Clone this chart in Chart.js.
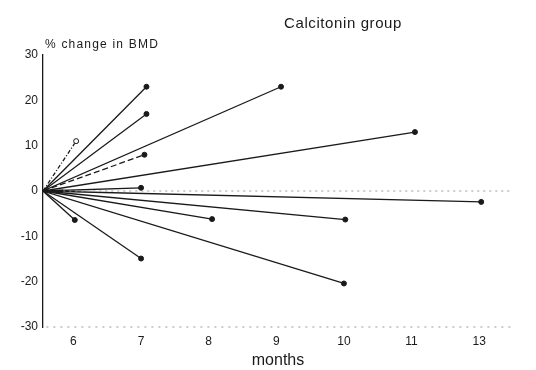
<!DOCTYPE html>
<html>
<head>
<meta charset="utf-8">
<script src="https://cdn.jsdelivr.net/npm/chart.js@4.4.1/dist/chart.umd.min.js"></script>
<style>
  html, body { margin: 0; padding: 0; background: #fff; }
  #wrap { width: 536px; height: 370px; }
</style>
</head>
<body>
<div id="wrap"><canvas id="bmd"></canvas></div>
<script>
// each subject: a line from the start (month 5.55, 0 %) to the last measurement
const startMonth = 5.55;
const endMonth = [7.08, 7.08, 7.05, 7.0, 6.04, 9.07, 11.05, 12.03, 10.02, 10.0, 8.05, 7.0, 6.02, 5.85];
const endChange = [23, 17, 8, 0.7, 11, 23, 13, -2.4, -6.3, -20.4, -6.2, -14.9, -6.4, 0.2];
const tickMonths = [6, 7, 8, 9, 10, 11, 12];
const tickLabels = ["6", "7", "8", "9", "10", "11", "13"];
const zeroLine = [5.85, 12.5];
const baseLine = [5.6, 12.5];

const dashes = { 2: [6, 3], 4: [4, 2, 1, 2] };
const ink = "#1a1a1a";
const fam = "'Liberation Sans', Arial, sans-serif";

const datasets = endMonth.map((m, i) => ({
    data: [{ x: startMonth, y: 0 }, { x: m, y: endChange[i] }],
    showLine: true,
    borderColor: ink,
    borderWidth: 1.3,
    borderDash: dashes[i] || [],
    pointRadius: i === 13 ? [0, 0] : [0, 2.5],
    pointBackgroundColor: i === 4 ? "#fff" : ink,
    pointBorderColor: ink,
    pointBorderWidth: 1,
}));

// dotted zero line and dotted bottom axis
datasets.unshift({
    data: zeroLine.map((x) => ({ x: x, y: 0 })),
    showLine: true,
    borderColor: "#999",
    borderWidth: 1,
    borderDash: [2, 4],
    pointRadius: 0,
});
datasets.unshift({
    data: baseLine.map((x) => ({ x: x, y: -30 })),
    showLine: true,
    clip: false,
    borderColor: "#999",
    borderWidth: 1,
    borderDash: [2, 5],
    pointRadius: 0,
});

const labelsPlugin = {
    id: "labels",
    afterDraw(chart) {
        const ctx = chart.ctx;
        ctx.save();
        ctx.fillStyle = ink;
        ctx.textBaseline = "middle";
        ctx.font = "15px " + fam;
        ctx.letterSpacing = "0.6px";
        ctx.textAlign = "center";
        ctx.fillText("Calcitonin group", 343, 24);
        ctx.font = "12px " + fam;
        ctx.letterSpacing = "1.2px";
        ctx.textAlign = "left";
        ctx.fillText("% change in BMD", 45, 45);
        ctx.restore();
    },
};

new Chart(document.getElementById("bmd"), {
    type: "scatter",
    data: { datasets: datasets },
    plugins: [labelsPlugin],
    options: {
        responsive: true,
        maintainAspectRatio: false,
        animation: false,
        layout: {
            padding: { top: 55, right: 23, left: 0, bottom: 0 },
        },
        plugins: {
            legend: { display: false },
            tooltip: { enabled: false },
        },
        scales: {
            x: {
                type: "linear",
                min: 5.55,
                max: 12.5,
                afterFit: (scale) => { scale.height = 43; },
                afterBuildTicks: (scale) => {
                    scale.ticks = tickMonths.map((v) => ({ value: v }));
                },
                ticks: {
                    color: ink,
                    padding: 3,
                    font: { size: 12, family: fam },
                    callback: (v) => tickLabels[tickMonths.indexOf(v)],
                },
                grid: { display: false, tickLength: 4 },
                border: { display: false },
                title: {
                    display: true,
                    text: "months",
                    color: ink,
                    padding: { top: 0, bottom: 0 },
                    font: { size: 16, family: fam },
                },
            },
            y: {
                min: -30,
                max: 30,
                afterFit: (scale) => { scale.width = 43; },
                ticks: {
                    stepSize: 10,
                    color: ink,
                    padding: 2,
                    font: { size: 12, family: fam },
                    callback: (v) => (v < 0 ? "-" + Math.abs(v) : v),
                },
                grid: { display: false, tickLength: 3 },
                border: { color: ink, width: 1.3 },
            },
        },
    },
});
</script>
</body>
</html>
